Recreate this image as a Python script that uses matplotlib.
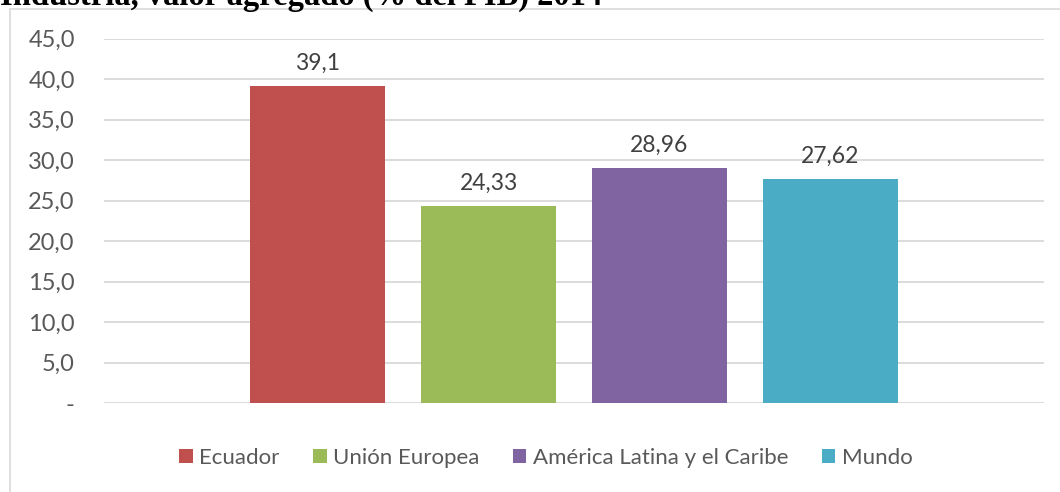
import matplotlib.pyplot as plt
from matplotlib.patches import Rectangle

series = ['Ecuador', 'Unión Europea', 'América Latina y el Caribe', 'Mundo']
values = [39.1, 24.33, 28.96, 27.62]
value_labels = ['39,1', '24,33', '28,96', '27,62']
colors = ['#C0504D', '#9BBB59', '#8064A2', '#4BACC6']
yticks = [0, 5, 10, 15, 20, 25, 30, 35, 40, 45]
ytick_labels = ['-', '5,0', '10,0', '15,0', '20,0', '25,0', '30,0', '35,0', '40,0', '45,0']
title = 'Industria, valor agregado (% del PIB) 2014'

plt.rcParams['font.family'] = ['Lato', 'DejaVu Sans']

fig = plt.figure(figsize=(10.6, 4.92), dpi=100)
ax = fig.add_axes([104 / 1060, 89 / 492, 940 / 1060, 364.5 / 492])

# chart frame (runs off the right and bottom edges)
fig.patches.append(Rectangle((10 / 1060, -0.1), 1.2, (492 - 9) / 492 + 0.1,
                             transform=fig.transFigure, fill=False,
                             edgecolor='#d9d9d9', linewidth=1.2, zorder=0))

width = 0.1436
step = 0.1819
for i, (name, v, lab, c) in enumerate(zip(series, values, value_labels, colors)):
    x = (i - 1.5) * step
    ax.bar(x, v, width=width, color=c, label=name, zorder=3)
    ax.text(x, v + 1.5, lab, ha='center', va='bottom', fontsize=16.5, color='#404040')

ax.set_xlim(-0.5, 0.5)
ax.set_ylim(0, 45)
ax.set_yticks(yticks)
ax.set_yticklabels(ytick_labels)
ax.set_xticks([])
ax.tick_params(axis='y', length=0, pad=21, labelsize=17, labelcolor='#595959')
for s in ax.spines.values():
    s.set_visible(False)
ax.grid(axis='y', color='#d9d9d9', linewidth=1.3, zorder=0)

fig.legend(loc='center', bbox_to_anchor=(546 / 1060, 34 / 492), ncol=4, frameon=False,
           fontsize=16, labelcolor='#595959', handlelength=0.6, handleheight=0.6,
           handletextpad=0.3, columnspacing=1.5)

fig.text(0.0, 487 / 492, title, ha='left', va='baseline', fontsize=23.5,
         fontweight='bold', family='Liberation Serif', color='black')

fig.savefig('out.png', dpi=100)
